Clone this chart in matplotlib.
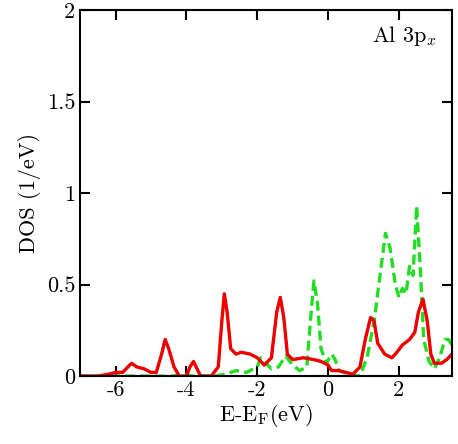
import matplotlib
matplotlib.use("Agg")
import matplotlib.pyplot as plt

plt.rcParams['font.family'] = ['cmr10', 'DejaVu Serif']
plt.rcParams['mathtext.fontset'] = 'cm'
plt.rcParams['axes.unicode_minus'] = False
plt.rcParams['axes.formatter.use_mathtext'] = True

red_E = [-7, -6.5, -6.2, -6.0, -5.8, -5.7, -5.55, -5.4, -5.2, -5.0, -4.85, -4.7, -4.6, -4.5, -4.35, -4.2, -4.0, -3.9, -3.8, -3.7, -3.6, -3.3, -3.1, -3.0, -2.93, -2.85, -2.75, -2.6, -2.45, -2.2, -2.0, -1.8, -1.6, -1.45, -1.35, -1.25, -1.15, -1.0, -0.7, -0.4, -0.2, 0, 0.1, 0.3, 0.5, 0.7, 0.9, 1.05, 1.2, 1.3, 1.4, 1.6, 1.8, 1.9, 2.1, 2.3, 2.45, 2.55, 2.68, 2.8, 2.9, 3.0, 3.2, 3.35, 3.5]
red_D = [0, 0, 0.01, 0.02, 0.02, 0.04, 0.07, 0.05, 0.04, 0.02, 0.02, 0.12, 0.2, 0.15, 0.05, 0.0, 0.0, 0.05, 0.08, 0.04, 0.0, 0.0, 0.05, 0.3, 0.45, 0.35, 0.15, 0.12, 0.13, 0.12, 0.1, 0.06, 0.1, 0.35, 0.43, 0.32, 0.12, 0.09, 0.1, 0.09, 0.08, 0.06, 0.03, 0.03, 0.02, 0.01, 0.05, 0.2, 0.32, 0.3, 0.18, 0.12, 0.1, 0.12, 0.17, 0.2, 0.24, 0.35, 0.42, 0.3, 0.12, 0.07, 0.07, 0.09, 0.12]

green_E = [-7, -5, -4.8, -4.4, -4.1, -3.8, -3.5, -3.2, -2.9, -2.6, -2.3, -2.0, -1.9, -1.8, -1.6, -1.4, -1.2, -1.0, -0.8, -0.6, -0.5, -0.4, -0.3, -0.2, -0.05, 0.1, 0.2, 0.3, 0.6, 0.9, 1.1, 1.3, 1.5, 1.62, 1.75, 1.9, 2.0, 2.1, 2.2, 2.3, 2.4, 2.5, 2.6, 2.7, 2.85, 3.0, 3.15, 3.3, 3.4, 3.5]
green_D = [0, 0, 0.0, 0.0, 0.01, 0.0, 0.0, 0.0, 0.01, 0.03, 0.02, 0.05, 0.1, 0.08, 0.04, 0.05, 0.11, 0.06, 0.03, 0.05, 0.3, 0.52, 0.4, 0.15, 0.07, 0.12, 0.09, 0.03, 0.01, 0.0, 0.1, 0.3, 0.6, 0.78, 0.7, 0.5, 0.43, 0.48, 0.45, 0.6, 0.55, 0.93, 0.6, 0.2, 0.08, 0.04, 0.1, 0.2, 0.2, 0.17]

xticks = [-6, -4, -2, 0, 2]
yticks = [0, 0.5, 1, 1.5, 2]
ytick_labels = ['0', '0.5', '1', '1.5', '2']

fig = plt.figure(figsize=(4.58, 4.44), dpi=100)
ax = fig.add_axes([0.175, 0.153, 0.812, 0.824])
ax.plot(green_E, green_D, color='#22dd22', lw=2.4, ls=(0, (3, 1.5)), solid_joinstyle='round')
ax.plot(red_E, red_D, color='#ee0000', lw=2.4, solid_joinstyle='round')
ax.set_xlim(-7, 3.5)
ax.set_ylim(0, 2)
ax.set_xticks(xticks)
ax.set_xticklabels([str(t) for t in xticks])
ax.set_yticks(yticks)
ax.set_yticklabels(ytick_labels)
ax.tick_params(direction='in', top=True, right=True, length=7, width=1.5, labelsize=16)
for s in ax.spines.values():
    s.set_linewidth(1.5)
ax.set_xlabel(r'E-E$_\mathrm{F}$(eV)', fontsize=16, labelpad=1)
ax.set_ylabel('DOS (1/eV)', fontsize=16)
ax.text(0.96, 0.93, r'Al 3p$_x$', transform=ax.transAxes, ha='right', va='center', fontsize=16)
fig.savefig('out.png', dpi=100)
